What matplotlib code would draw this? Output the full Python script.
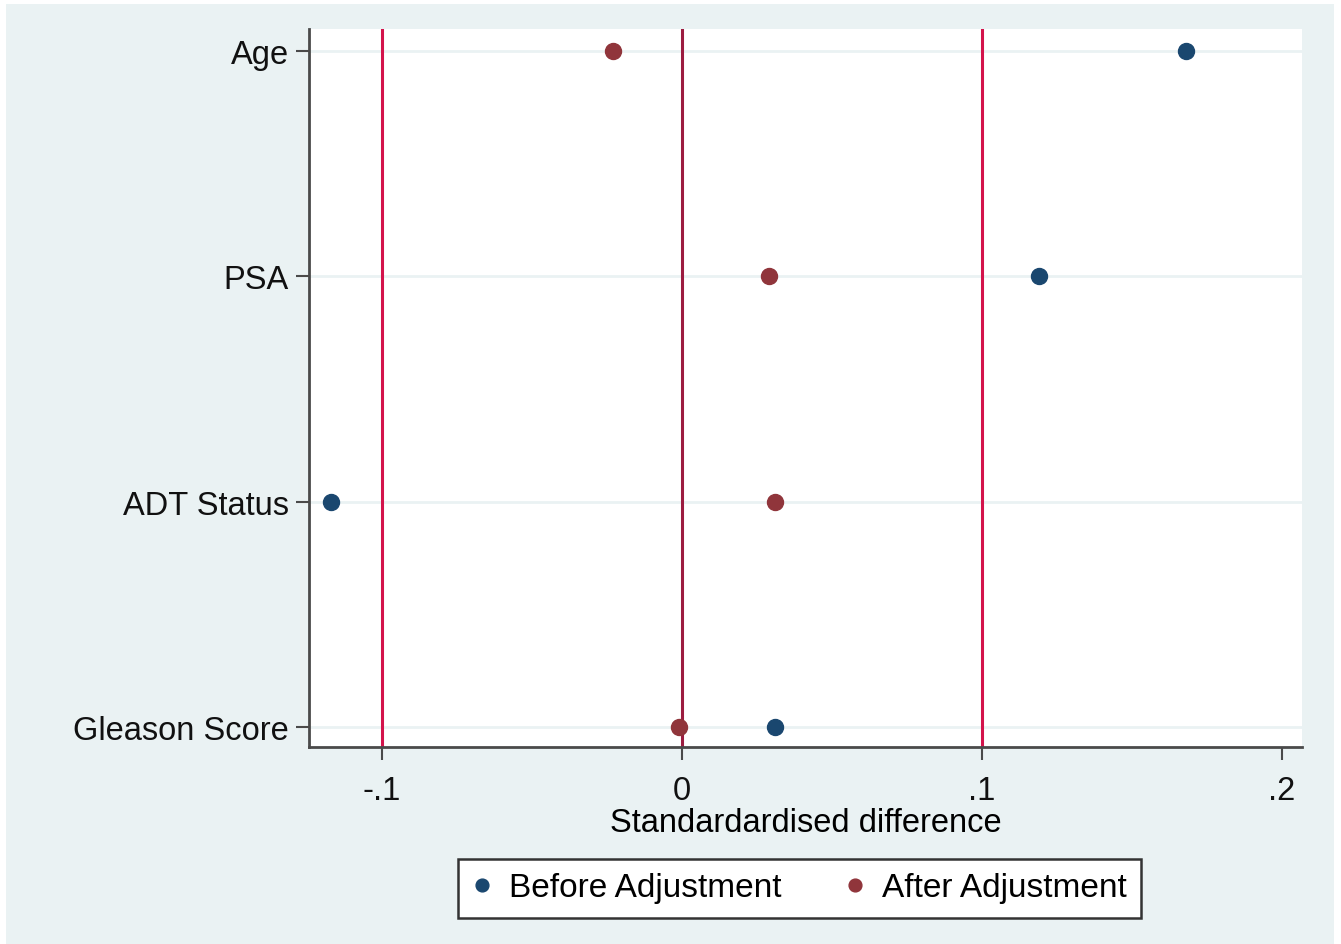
import matplotlib
matplotlib.use("Agg")
import matplotlib.pyplot as plt
from matplotlib.patches import Rectangle

categories = ["Age", "PSA", "ADT Status", "Gleason Score"]
before_adj = [0.168, 0.119, -0.117, 0.031]
after_adj = [-0.023, 0.029, 0.031, -0.001]
xticks = [-0.1, 0.0, 0.1, 0.2]
xtick_labels = ["-.1", "0", ".1", ".2"]
ref_lines = [-0.1, 0.0, 0.1]
ref_colors = ["#d3134b", "#9c1c40", "#d3134b"]

plt.rcParams['font.family'] = ['Liberation Sans', 'DejaVu Sans']

W, H = 1341, 945
FS = 23.5
fig = plt.figure(figsize=(W / 100, H / 100), dpi=100)
fig.patch.set_facecolor("white")
bg = Rectangle((6 / W, -0.01), (1334 - 6) / W, 1.01 - 5 / H,
               transform=fig.transFigure, facecolor="#eaf2f3",
               edgecolor="none", zorder=-10)
fig.add_artist(bg)

ax = fig.add_axes([309 / W, 1 - 748 / H, (1302 - 309) / W, (748 - 30) / H])
ax.set_zorder(1)
ax.set_facecolor("white")

n = len(categories)
ypos = [n - i for i in range(n)]

for yy in ypos:
    ax.axhline(yy, color="#eaf2f3", linewidth=2, zorder=1)
for xv, c in zip(ref_lines, ref_colors):
    ax.axvline(xv, color=c, linewidth=2.2, zorder=2)

ax.plot(before_adj, ypos, linestyle="none", marker="o", markersize=11.5,
        color="#1a476f", label="Before Adjustment", zorder=3)
ax.plot(after_adj, ypos, linestyle="none", marker="o", markersize=11.5,
        color="#90353b", label="After Adjustment", zorder=3)

ax.set_xlim((309 - 682) / 3000, (1302 - 682) / 3000)
ax.set_ylim(1 - 20 / 225.3, 4 + 22 / 225.3)
ax.set_yticks(ypos)
ax.set_yticklabels(categories, fontsize=FS)
ax.set_xticks(xticks)
ax.set_xticklabels(xtick_labels, fontsize=FS)
ax.set_xlabel("Standardardised difference", fontsize=FS, labelpad=1)

for s in ["top", "right"]:
    ax.spines[s].set_visible(False)
for s in ["left", "bottom"]:
    ax.spines[s].set_color("#4a4a4a")
    ax.spines[s].set_linewidth(2.0)
ax.tick_params(axis="both", length=9.5, width=1.5, color="#4a4a4a", labelcolor="#111111")
ax.tick_params(axis="x", pad=10.5)
ax.tick_params(axis="y", pad=5)

leg = fig.legend(loc="center left", bbox_to_anchor=(458 / W, 1 - 889 / H), ncol=2,
                 fontsize=24, frameon=True, fancybox=False, markerscale=0.8,
                 handletextpad=0.51, columnspacing=1.9, borderpad=0.42,
                 handlelength=0.6, borderaxespad=0)
leg.get_frame().set_edgecolor("#333333")
leg.get_frame().set_linewidth(1.8)
leg.get_frame().set_facecolor("white")
leg.get_frame().set_alpha(1)

fig.savefig("out.png", dpi=100)
